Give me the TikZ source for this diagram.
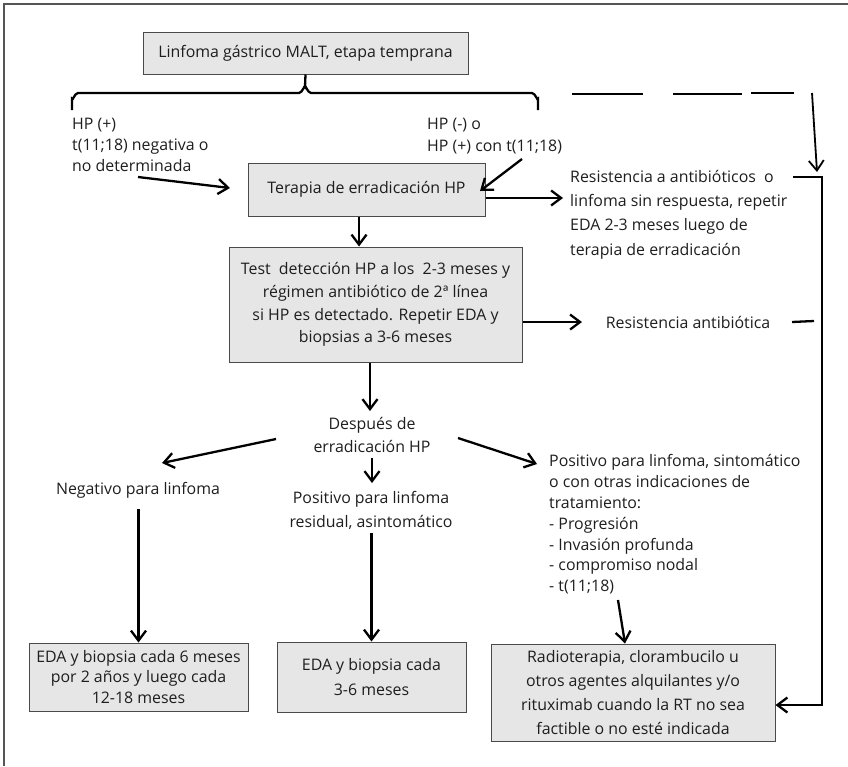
\documentclass[tikz,border=0pt]{standalone}
\usepackage{fontspec}
\setmainfont{Open Sans}
\usetikzlibrary{arrows.meta}
\definecolor{boxfill}{HTML}{E6E6E6}
\definecolor{boxline}{HTML}{4A4A4A}
\definecolor{txt}{HTML}{1E1E1E}
\definecolor{frame}{HTML}{555555}
\newcommand{\fs}[1]{\fontsize{15.9}{#1}\selectfont}
\begin{document}
\begin{tikzpicture}[x=1pt,y=-1pt,
  every node/.style={text=txt, font=\fs{20.5}, inner sep=0pt},
  box/.style={draw=boxline, fill=boxfill, line width=1pt, align=center},
  lbl/.style={align=left, anchor=west},
  clbl/.style={align=center},
  conn/.style={line width=2.3pt},
  arr/.style={conn, -{Straight Barb[length=10pt,width=15pt,line width=2.3pt]}}
]
\useasboundingbox (0,0) rectangle (848,766);

% outer frame (top and left edges)
\draw[frame, line width=1.2pt] (4,766) -- (4,4) -- (848,4);

% boxes and labels
\node[box, minimum width=325pt, minimum height=42pt] (malt) at (305.5,53) {Linfoma gástrico MALT, etapa temprana};
\node[lbl, font=\fs{21}] (hpp) at (72,145) {HP (+)\\t(11;18) negativa o\\no determinada};
\node[lbl, font=\fs{22}] (hpn) at (427,136) {HP (-) o\\HP (+) con t(11;18)};
\node[box, minimum width=237pt, minimum height=53pt] (ter) at (366.5,189.5) {Terapia de erradicación HP};
\node[lbl, font=\fs{24.3}] (res1) at (570,214.5) {Resistencia a antibióticos\ \ o\\linfoma sin respuesta, repetir\\EDA 2-3 meses luego de\\terapia de erradicación};
\node[box, minimum width=293pt, minimum height=115pt, font=\fs{22.7}] (test) at (375.5,304.5) {Test\ \ detección HP a los\ \ 2-3 meses y\\régimen antibiótico de 2ª línea\\si HP es detectado. Repetir EDA y\\biopsias a 3-6 meses};
\node (res2) at (688,322) {Resistencia antibiótica};
\node[clbl, font=\fs{23}] (desp) at (372,434.5) {Después de\\erradicación HP};
\node (neg) at (138,490) {Negativo para linfoma};
\node[clbl, font=\fs{24.5}] (posr) at (371,510.5) {Positivo para linfoma\\residual, asintomático};
\node[lbl, font=\fs{20.8}] (poss) at (549,524.5) {Positivo para linfoma, sintomático\\o con otras indicaciones de\\tratamiento:\\- Progresión\\- Invasión profunda\\- compromiso nodal\\- t(11;18)};
\node[box, minimum width=219pt, minimum height=68pt] (eda6) at (138.5,677) {EDA y biopsia cada 6 meses\\por 2 años y luego cada\\12-18 meses};
\node[box, minimum width=189pt, minimum height=70pt, font=\fs{25}] (eda3) at (371.5,677) {EDA y biopsia cada\\3-6 meses};
\node[box, minimum width=284pt, minimum height=97pt, font=\fs{24}] (rad) at (633,692.5) {Radioterapia, clorambucilo u\\otros agentes alquilantes y/o\\rituximab cuando la RT no sea\\factible o no esté indicada};

% brace under the first box
\draw[conn] (72,110) -- (72,99) to[out=-90,in=180] (78,93) -- (299,93)
  to[out=0,in=90] (305,87) -- (malt.south);
\draw[conn] (305,87) to[out=90,in=180] (311,93) -- (532,93)
  to[out=0,in=-90] (538,99) -- (538,110);

% free ends of connectors
\coordinate (hppA) at (138,177);
\coordinate (hppB) at (230,188);
\coordinate (hpnA) at (522,159);
\coordinate (hpnB) at (480,191);
\coordinate (res1tip) at (563,198);
\coordinate (res2tip) at (582,322);
\coordinate (desptip) at (370,411);
\coordinate (despL) at (276,439);
\coordinate (negtip) at (162,463);
\coordinate (despC) at (372,458);
\coordinate (posrtip) at (372,483);
\coordinate (despR) at (458,438);
\coordinate (posstip) at (537,464);
\coordinate (negB) at (138.5,509);
\coordinate (posrB) at (371.5,533);
\coordinate (possB) at (618,600);
\coordinate (d1a) at (572,94);
\coordinate (d1b) at (643,94);
\coordinate (d2a) at (673,94);
\coordinate (d2b) at (742,94);
\coordinate (d3a) at (751,93);
\coordinate (d3b) at (794,93);
\coordinate (dropA) at (812,93);
\coordinate (dropB) at (817,172);
\coordinate (res1R) at (793,177);
\coordinate (rail) at (822,177);
\coordinate (res2A) at (792,322);
\coordinate (res2B) at (814,321);
\coordinate (radIn) at ([yshift=-12.5pt]rad.east);

% connectors
\draw[arr] (hppA) -- (hppB);
\draw[arr] (hpnA) -- (hpnB);
\draw[arr] ([yshift=-8.5pt]ter.east) -- (res1tip);
\draw[arr] ([xshift=-7.5pt]ter.south) -- ([xshift=-16.5pt]test.north);
\draw[arr] ([yshift=-17.5pt]test.east) -- (res2tip);
\draw[arr] ([xshift=-5.5pt]test.south) -- (desptip);
\draw[arr] (despL) -- (negtip);
\draw[arr] (despC) -- (posrtip);
\draw[arr] (despR) -- (posstip);
\draw[arr] (negB) -- (eda6.north);
\draw[arr] (posrB) -- (eda3.north);
\draw[arr] (possB) -- ([xshift=-8pt]rad.north);

% dashed route on the right
\draw[conn] (d1a) -- (d1b);
\draw[conn] (d2a) -- (d2b);
\draw[conn] (d3a) -- (d3b);
\draw[conn, -{Straight Barb[length=10pt,width=15pt,line width=1.8pt]}, line width=1.8pt] (dropA) -- (dropB);
\draw[arr] (res1R) -- (rail) -- (rail |- radIn) -- (radIn);
\draw[conn] (res2A) -- (res2B);
\end{tikzpicture}
\end{document}
